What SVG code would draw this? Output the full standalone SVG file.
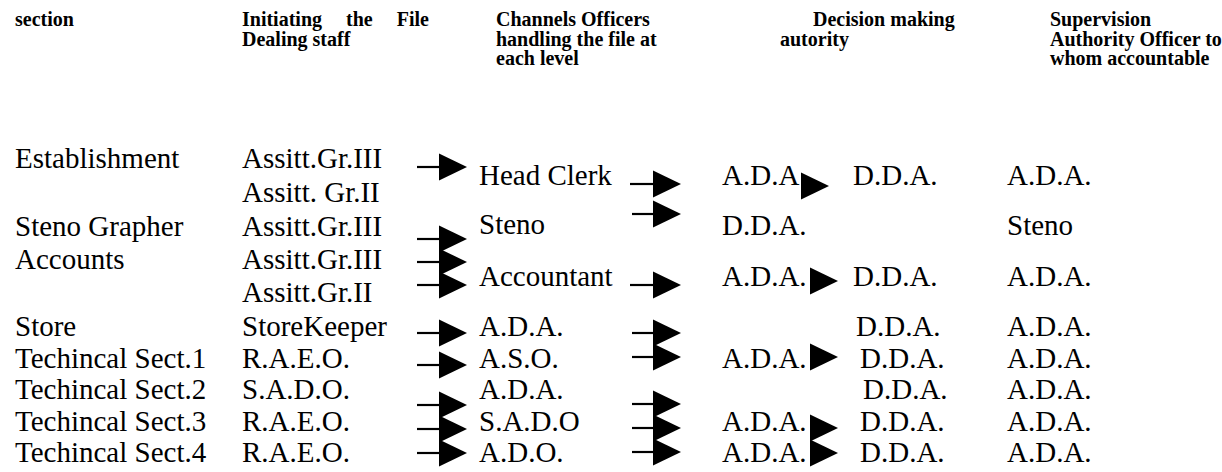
<svg xmlns="http://www.w3.org/2000/svg" xmlns:xlink="http://www.w3.org/1999/xlink" width="1222" height="472" viewBox="0 0 1222 472">
<style>
.h{font-family:"Liberation Serif","Times New Roman",serif;font-weight:bold;font-size:20px;fill:#000}
.t{font-family:"Liberation Serif","Times New Roman",serif;font-size:29px;fill:#000}
.ln{stroke:#000;stroke-width:2.2;fill:none}
.hd{fill:#000}
</style>
<defs>
<path id="head" class="hd" d="M0,-13.5 L28,0 L0,13.5 Z"/>
</defs>
<rect width="1222" height="472" fill="#fff"/>
<g id="headers">
<g id="h-section"><text class="h" x="15" y="26">section</text></g>
<g id="h-initiating"><text class="h" x="242" y="26" word-spacing="19">Initiating the File</text><text class="h" x="242" y="45.5">Dealing staff</text></g>
<g id="h-channels"><text class="h" x="496" y="26">Channels Officers</text><text class="h" x="496" y="45.5">handling the file at</text><text class="h" x="496" y="65">each level</text></g>
<g id="h-decision"><text class="h" x="813" y="26">Decision making</text><text class="h" x="780" y="45.5">autority</text></g>
<g id="h-supervision"><text class="h" x="1050" y="26">Supervision</text><text class="h" x="1050" y="45.5">Authority Officer to</text><text class="h" x="1050" y="65">whom accountable</text></g>
</g>
<g id="sections">
<g id="s-establishment"><text class="t" x="15" y="168">Establishment</text></g>
<g id="s-steno"><text class="t" x="15" y="236">Steno Grapher</text></g>
<g id="s-accounts"><text class="t" x="15" y="269">Accounts</text></g>
<g id="s-store"><text class="t" x="15" y="336">Store</text></g>
<g id="s-tech1"><text class="t" x="15" y="368">Techincal Sect.1</text></g>
<g id="s-tech2"><text class="t" x="15" y="399">Techincal Sect.2</text></g>
<g id="s-tech3"><text class="t" x="15" y="431">Techincal Sect.3</text></g>
<g id="s-tech4"><text class="t" x="15" y="462">Techincal Sect.4</text></g>
</g>
<g id="initiators">
<g id="i-est1"><text class="t" x="242" y="168">Assitt.Gr.III</text></g>
<g id="i-est2"><text class="t" x="242" y="202">Assitt. Gr.II</text></g>
<g id="i-steno"><text class="t" x="242" y="236">Assitt.Gr.III</text></g>
<g id="i-acc1"><text class="t" x="242" y="269">Assitt.Gr.III</text></g>
<g id="i-acc2"><text class="t" x="242" y="302">Assitt.Gr.II</text></g>
<g id="i-store"><text class="t" x="242" y="336">StoreKeeper</text></g>
<g id="i-tech1"><text class="t" x="242" y="368">R.A.E.O.</text></g>
<g id="i-tech2"><text class="t" x="242" y="399">S.A.D.O.</text></g>
<g id="i-tech3"><text class="t" x="242" y="431">R.A.E.O.</text></g>
<g id="i-tech4"><text class="t" x="242" y="462">R.A.E.O.</text></g>
</g>
<g id="channels">
<g id="c-headclerk"><text class="t" x="479" y="185">Head Clerk</text></g>
<g id="c-steno"><text class="t" x="479" y="234">Steno</text></g>
<g id="c-accountant"><text class="t" x="479" y="286">Accountant</text></g>
<g id="c-store"><text class="t" x="479" y="336">A.D.A.</text></g>
<g id="c-tech1"><text class="t" x="479" y="368">A.S.O.</text></g>
<g id="c-tech2"><text class="t" x="479" y="399">A.D.A.</text></g>
<g id="c-tech3"><text class="t" x="479" y="431">S.A.D.O</text></g>
<g id="c-tech4"><text class="t" x="479" y="462">A.D.O.</text></g>
</g>
<g id="decision">
<g id="d-est-a"><text class="t" x="722" y="185">A.D.A</text></g>
<g id="d-est-b"><text class="t" x="853" y="185">D.D.A.</text></g>
<g id="d-steno"><text class="t" x="722" y="235">D.D.A.</text></g>
<g id="d-acc-a"><text class="t" x="722" y="286">A.D.A.</text></g>
<g id="d-acc-b"><text class="t" x="853" y="286">D.D.A.</text></g>
<g id="d-store"><text class="t" x="856" y="336">D.D.A.</text></g>
<g id="d-tech1-a"><text class="t" x="722" y="368">A.D.A.</text></g>
<g id="d-tech1-b"><text class="t" x="860" y="368">D.D.A.</text></g>
<g id="d-tech2"><text class="t" x="863" y="399">D.D.A.</text></g>
<g id="d-tech3-a"><text class="t" x="722" y="431">A.D.A.</text></g>
<g id="d-tech3-b"><text class="t" x="860" y="431">D.D.A.</text></g>
<g id="d-tech4-a"><text class="t" x="722" y="462">A.D.A.</text></g>
<g id="d-tech4-b"><text class="t" x="860" y="462">D.D.A.</text></g>
</g>
<g id="supervision">
<g id="p-est"><text class="t" x="1007" y="185">A.D.A.</text></g>
<g id="p-steno"><text class="t" x="1007" y="235">Steno</text></g>
<g id="p-acc"><text class="t" x="1007" y="286">A.D.A.</text></g>
<g id="p-store"><text class="t" x="1007" y="336">A.D.A.</text></g>
<g id="p-tech1"><text class="t" x="1007" y="368">A.D.A.</text></g>
<g id="p-tech2"><text class="t" x="1007" y="399">A.D.A.</text></g>
<g id="p-tech3"><text class="t" x="1007" y="431">A.D.A.</text></g>
<g id="p-tech4"><text class="t" x="1007" y="462">A.D.A.</text></g>
</g>
<g id="connectors">
<line class="ln" x1="417" y1="167" x2="441" y2="167"/><use xlink:href="#head" x="439" y="167"/>
<line class="ln" x1="417" y1="239" x2="441" y2="239"/><use xlink:href="#head" x="439" y="239"/>
<line class="ln" x1="417" y1="262" x2="441" y2="262"/><use xlink:href="#head" x="439" y="262"/>
<line class="ln" x1="417" y1="285" x2="441" y2="285"/><use xlink:href="#head" x="439" y="285"/>
<line class="ln" x1="417" y1="333" x2="441" y2="333"/><use xlink:href="#head" x="439" y="333"/>
<line class="ln" x1="417" y1="365" x2="441" y2="365"/><use xlink:href="#head" x="439" y="365"/>
<line class="ln" x1="417" y1="405" x2="441" y2="405"/><use xlink:href="#head" x="439" y="405"/>
<line class="ln" x1="417" y1="429" x2="441" y2="429"/><use xlink:href="#head" x="439" y="429"/>
<line class="ln" x1="417" y1="453" x2="441" y2="453"/><use xlink:href="#head" x="439" y="453"/>
<line class="ln" x1="630" y1="184" x2="655" y2="184"/><use xlink:href="#head" x="653" y="184"/>
<line class="ln" x1="632" y1="214" x2="655" y2="214"/><use xlink:href="#head" x="653" y="214"/>
<line class="ln" x1="630" y1="285" x2="655" y2="285"/><use xlink:href="#head" x="653" y="285"/>
<line class="ln" x1="632" y1="333" x2="655" y2="333"/><use xlink:href="#head" x="653" y="333"/>
<line class="ln" x1="632" y1="357" x2="655" y2="357"/><use xlink:href="#head" x="653" y="357"/>
<line class="ln" x1="632" y1="404" x2="655" y2="404"/><use xlink:href="#head" x="653" y="404"/>
<line class="ln" x1="632" y1="428" x2="655" y2="428"/><use xlink:href="#head" x="653" y="428"/>
<line class="ln" x1="632" y1="452" x2="655" y2="452"/><use xlink:href="#head" x="653" y="452"/>
<use xlink:href="#head" x="801" y="186"/>
<use xlink:href="#head" x="810" y="281"/>
<use xlink:href="#head" x="810" y="357"/>
<use xlink:href="#head" x="810" y="428"/>
<use xlink:href="#head" x="810" y="453"/>
</g>
</svg>
